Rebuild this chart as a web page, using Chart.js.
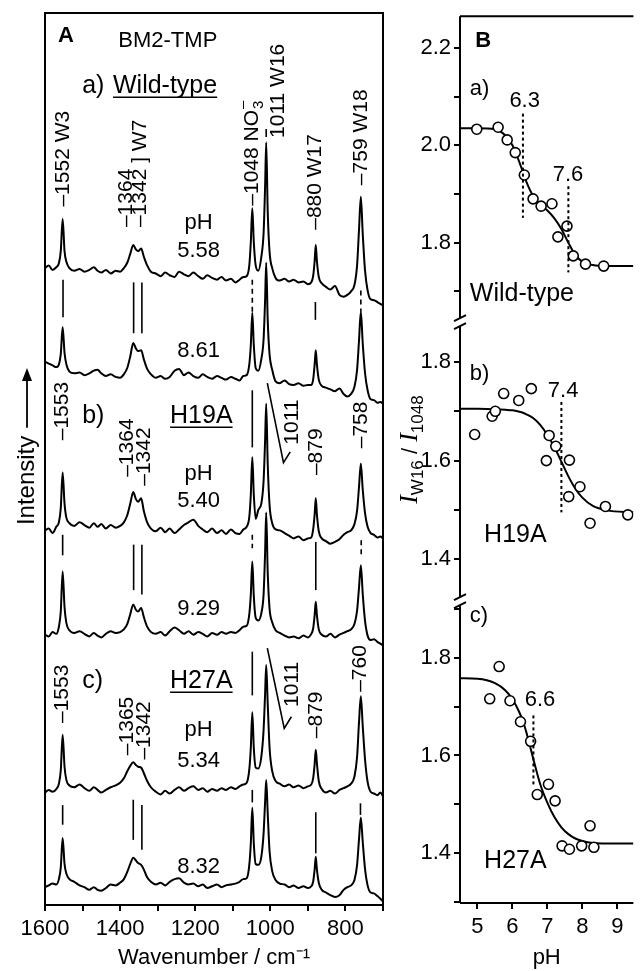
<!DOCTYPE html>
<html lang="en">
<head>
<meta charset="utf-8">
<title>BM2-TMP Raman spectra and pH titration</title>
<script src="https://cdn.jsdelivr.net/npm/chart.js@4.4.1/dist/chart.umd.min.js"></script>
<style>
  html, body { margin: 0; padding: 0; background: #fff; }
  #figure { position: relative; width: 640px; height: 971px; overflow: hidden; }
  #spectra { position: absolute; left: 0; top: 0; width: 400px; height: 971px; }
  #titration { position: absolute; left: 395px; top: 0; width: 245px; height: 971px; }
</style>
</head>
<body>
<div id="figure">
  <canvas id="spectra" width="400" height="971"></canvas>
  <canvas id="titration" width="245" height="971"></canvas>
</div>
<script>
// ---------- panel A : Raman spectra (intensity relative to each trace's baseline) ----------
const wavenumbers = [1600,1590,1580,1570,1563,1558,1553,1548,1543,1535,
  1522,1508,1495,1482,1470,1460,1450,1438,1425,1412,
  1400,1390,1381,1373,1365,1358,1352,1344,1337,1328,
  1318,1305,1292,1280,1268,1255,1243,1230,1218,1205,
  1192,1180,1168,1155,1142,1130,1118,1105,1093,1082,
  1072,1063,1056,1052,1048,1044,1039,1032,1024,1018,
  1014,1011,1007,1002,995,986,975,962,950,938,
  925,912,900,891,886,882,879,876,871,863,
  852,840,828,816,805,795,785,776,769,764,
  759,754,748,741,733,724,715,707,700];

const wt558 = [0,0.3,-0.2,0.1,0.55,1.9,5.5,1.9,0.7,0.0,
  -0.3,-0.1,-0.4,-0.2,0.1,-0.3,-0.5,-0.2,-0.6,-0.3,
  -0.4,0.0,0.6,1.6,2.6,2.1,1.9,2.2,1.3,0.3,
  -0.4,-0.6,-0.9,-0.5,-0.8,-1.0,-0.4,-0.7,-0.9,-0.5,
  -0.9,-1.2,-0.8,-1.1,-1.3,-1.0,-1.4,-1.2,-1.6,-1.3,
  -1.0,-0.9,0.3,2.9,6.7,2.9,0.3,-0.3,1.25,3.9,
  9.0,14.1,6.4,1.8,0.0,-1.1,-1.4,-1.2,-1.5,-1.3,
  -1.6,-1.5,-1.8,-1.6,-0.9,0.8,2.6,0.8,-1.0,-1.7,
  -2.1,-2.4,-2.0,-3.0,-3.2,-3.0,-2.6,-1.9,0.3,4.2,
  8.0,3.9,-0.2,-2.5,-3.5,-3.6,-3.8,-4.0,-4.2];
const wt861 = [0,-0.2,-0.4,-0.6,-0.3,0.85,3.9,1.0,-0.3,-1.1,
  -1.3,-1.2,-1.5,-1.3,-1.0,-0.9,-1.3,-1.6,-1.4,-1.7,
  -1.8,-1.4,-0.7,0.6,2.1,1.5,1.2,1.3,0.3,-0.8,
  -1.4,-1.8,-1.6,-1.9,-1.7,-1.0,-0.8,-1.5,-1.2,-1.6,
  -1.8,-1.4,-1.7,-1.9,-1.6,-1.8,-2.0,-1.7,-1.9,-2.1,
  -1.6,-1.5,-0.3,1.85,5.5,1.85,-0.7,-1.0,0.3,2.5,
  6.8,11.1,4.7,0.8,-0.9,-2.2,-2.4,-2.1,-2.5,-2.6,
  -2.4,-2.7,-2.6,-2.6,-2.0,-0.3,1.3,-0.3,-2.0,-2.7,
  -2.9,-3.1,-3.3,-3.0,-3.6,-3.9,-3.6,-2.8,-0.9,2.3,
  5.6,2.1,-1.2,-3.2,-4.2,-4.3,-4.6,-4.5,-4.7];
const h19a540 = [0,0.2,-0.3,0.4,0.9,2.5,6.5,3.0,1.4,0.8,
  0.5,0.9,0.6,0.3,0.8,0.4,0.7,0.2,0.6,0.3,
  0.5,0.9,1.7,3.0,4.3,3.5,3.2,3.6,2.2,0.9,
  0.2,-0.1,0.3,-0.2,0.2,-0.3,0.1,0.6,0.9,1.2,
  0.5,0.1,-0.2,0.2,-0.3,0.0,-0.4,0.1,-0.3,-0.4,
  0.1,0.4,1.5,4.0,8.2,4.0,1.3,2.3,3.0,5.5,
  10.0,14.2,7.5,2.8,0.8,0.1,0.0,-0.3,-0.6,-0.9,
  -0.7,-1.1,-0.9,-0.8,0.1,1.8,3.6,1.8,-0.1,-0.9,
  -1.2,-1.5,-1.3,-1.0,-0.5,-0.2,0.0,0.7,2.2,4.8,
  7.5,4.6,2.0,0.4,-0.3,-0.5,-0.8,-0.7,-0.9];
const h19a929 = [0,-0.2,0.3,0.1,0.9,2.6,7.1,3.1,1.3,0.5,
  0.2,0.4,0.1,-0.2,0.2,-0.1,-0.3,0.1,0.4,0.2,
  0.3,0.6,1.2,2.3,3.4,2.8,2.6,3.0,2.0,0.9,
  0.3,0.1,0.3,-0.1,0.4,0.8,0.5,0.1,0.4,0.0,
  0.3,0.1,-0.2,0.2,0.0,0.3,0.1,0.3,0.2,0.5,
  0.9,1.0,2.3,4.5,8.2,4.3,1.9,1.6,2.4,4.5,
  9.1,13.7,7.0,2.9,1.4,0.5,0.2,-0.1,-0.3,-0.2,
  -0.4,-0.1,-0.3,0.1,0.7,2.2,3.7,2.2,0.6,0.0,
  -0.2,0.1,-0.3,0.0,0.2,0.4,0.6,1.2,2.7,5.2,
  7.8,4.6,1.6,-0.1,-0.6,-0.5,-0.8,-1.0,-1.2];
const h27a534 = [0,0.3,0.1,0.4,1.0,2.5,6.5,2.9,1.4,0.8,
  0.6,0.9,0.5,0.2,0.6,0.3,0.0,0.3,0.6,0.8,
  1.1,1.6,2.4,3.0,3.4,3.1,2.9,2.8,2.2,1.3,
  0.6,0.1,-0.2,0.2,-0.1,0.3,0.6,0.2,0.5,0.7,
  0.3,0.5,0.1,0.4,0.2,0.5,0.3,0.6,0.4,0.7,
  0.9,1.1,2.6,5.0,9.0,5.0,2.8,2.7,4.0,7.0,
  11.0,14.3,10.0,5.0,2.4,1.3,1.0,0.7,0.9,0.6,
  0.8,0.5,0.7,0.9,1.6,3.2,4.8,3.3,1.3,0.4,
  0.0,0.2,-0.1,0.3,0.5,0.7,1.0,1.8,4.0,7.8,
  10.8,7.5,3.8,1.2,0.1,-0.1,-0.3,0.0,-0.4];
const h27a832 = [0,0.2,0.4,0.3,0.9,2.2,5.5,2.6,1.5,0.9,
  0.6,0.2,0.0,-0.3,0.0,-0.3,-0.4,-0.1,0.3,0.2,
  0.5,0.9,1.7,2.6,3.3,3.0,2.7,2.5,2.0,1.1,
  0.6,0.3,0.5,0.2,0.6,0.9,1.0,0.5,0.3,0.4,
  0.1,0.3,-0.1,0.1,0.3,0.0,0.2,0.3,0.4,0.6,
  0.9,1.0,2.5,4.9,8.9,4.9,2.6,2.5,3.4,6.0,
  9.5,12.0,8.3,4.0,1.8,0.8,0.4,0.3,0.0,0.2,
  -0.1,0.1,-0.1,0.1,0.6,2.0,3.4,2.0,0.5,-0.3,
  -0.6,-0.9,-1.1,-0.9,-0.3,0.0,0.2,0.8,2.5,5.3,
  7.8,5.1,2.1,0.2,-0.6,-0.7,-1.0,-1.3,-1.6];

const spectra = [wt558, wt861, h19a540, h19a929, h27a534, h27a832];
const spectrumNames = ['Wild-type pH 5.58', 'Wild-type pH 8.61', 'H19A pH 5.40',
  'H19A pH 9.29', 'H27A pH 5.34', 'H27A pH 8.32'];
const spectrumOffsets = [71.4, 60.9, 42.0, 30.3, 12.6, 2.0];

// ---------- panel B : I(W16)/I(1048) against pH ----------
const wtPH = [4.98, 5.59, 5.85, 6.08, 6.34, 6.59, 6.82, 7.13, 7.30, 7.56, 7.74, 8.09, 8.61];
const wtRatio = [2.033, 2.037, 2.011, 1.985, 1.939, 1.890, 1.875, 1.880, 1.812, 1.834, 1.773, 1.756, 1.752];
const h19aPH = [4.92, 5.42, 5.51, 5.75, 6.18, 6.54, 6.97, 7.05, 7.24, 7.63, 7.61, 7.93, 8.22, 8.66, 9.30];
const h19aRatio = [1.653, 1.690, 1.700, 1.736, 1.722, 1.746, 1.600, 1.651, 1.629, 1.601, 1.527, 1.547, 1.473, 1.507, 1.490];
const h27aPH = [5.35, 5.62, 5.93, 6.23, 6.52, 6.71, 7.03, 7.22, 7.42, 7.63, 7.98, 8.22, 8.33];
const h27aRatio = [1.716, 1.782, 1.712, 1.669, 1.629, 1.520, 1.541, 1.507, 1.415, 1.408, 1.415, 1.456, 1.412];

const fitPH = [4.5, 5.0, 5.5, 5.8, 6.0, 6.2, 6.3, 6.4, 6.6, 6.8, 7.0, 7.2, 7.4, 7.6, 7.8, 8.0, 8.3, 8.7, 9.46];
const wtFit = [2.035, 2.035, 2.033, 2.020, 2.000, 1.965, 1.945, 1.925, 1.895, 1.878, 1.866, 1.850, 1.828, 1.800, 1.775, 1.761, 1.754, 1.752, 1.752];
const h19aFit = [1.705, 1.705, 1.704, 1.703, 1.702, 1.699, 1.697, 1.694, 1.686, 1.672, 1.652, 1.627, 1.598, 1.568, 1.543, 1.525, 1.508, 1.499, 1.495];
const h27aFit = [1.758, 1.757, 1.748, 1.733, 1.715, 1.688, 1.670, 1.647, 1.592, 1.540, 1.503, 1.474, 1.453, 1.439, 1.430, 1.425, 1.421, 1.420, 1.420];

const pKa = [['6.3', 6.3, 'ya'], ['7.6', 7.6, 'ya'], ['7.4', 7.4, 'yb'], ['6.6', 6.6, 'yc']];

// ---------- annotation layout (wavenumber, intensity units) ----------
const SANS = '"Liberation Sans", Arial, Helvetica, sans-serif';

const peakLabels = [
  ['–1552 W3', 1552, 78.3], ['–1364', 1384, 76.0], ['–1342 ] W7', 1347, 76.0],
  ['1011 W16', 980, 86.0], ['–880 W17', 880, 75.7], ['–759 W18', 759, 80.7],
  ['–1553', 1553, 52.1], ['–1364', 1381, 48.0], ['–1342', 1336, 47.0],
  ['1011', 941, 51.6], ['–879', 879, 48.2], ['–758', 758, 51.2],
  ['–1553', 1553, 20.4], ['–1365', 1381, 16.8], ['–1342', 1336, 16.3],
  ['1011', 941, 22.2], ['–879', 879, 18.7], ['–760', 760, 23.9]
];
const guideLines = [
  [1552, 70.1, 65.9, false], [1364, 69.8, 64.1, false], [1342, 69.8, 64.1, false],
  [1048, 70.1, 66.5, true], [880, 67.6, 65.6, false], [759, 68.9, 66.5, true],
  [1011, 87.0, 86.1, false],
  [1048, 57.7, 51.3, false],
  [1553, 41.5, 39.2, false], [1364, 40.4, 35.3, false], [1342, 40.4, 34.8, false],
  [1048, 41.5, 40.0, true], [879, 40.7, 35.3, false], [758, 40.9, 39.0, true],
  [1048, 28.4, 23.5, false],
  [1553, 11.2, 9.0, false], [1365, 11.8, 7.3, false], [1342, 11.2, 6.2, false],
  [1048, 12.9, 11.5, false], [879, 10.4, 5.8, false], [760, 11.4, 10.1, false]
];
const pointers = [
  [[1008, 58.5], [965, 49.6], [947, 50.8]],
  [[1008, 28.8], [963, 19.8], [944, 21.1]]
];
const phLabels = [
  ['pH', 1191, 75.8], ['5.58', 1191, 72.6], ['8.61', 1191, 61.4],
  ['pH', 1191, 47.6], ['5.40', 1191, 44.6], ['9.29', 1191, 32.5],
  ['pH', 1191, 18.9], ['5.34', 1191, 15.5], ['8.32', 1191, 3.6]
];
const groupTitles = [['a)', 'Wild-type', 91.0], ['b)', 'H19A', 54.0], ['c)', 'H27A', 24.3]];
const groupNameStart = [1419, 1267, 1267];

function vText(ctx, text, x, y) {
  ctx.save();
  ctx.translate(x, y);
  ctx.rotate(-Math.PI / 2);
  ctx.textAlign = 'left';
  ctx.textBaseline = 'middle';
  ctx.fillText(text, 0, 0);
  ctx.restore();
}

const spectraDecor = {
  id: 'spectraDecor',
  afterDraw(chart) {
    const { ctx, chartArea: ca } = chart;
    const xs = chart.scales.x, ys = chart.scales.y;
    const px = w => xs.getPixelForValue(w);
    const py = u => ys.getPixelForValue(u);
    ctx.save();
    ctx.strokeStyle = '#000';
    ctx.fillStyle = '#000';
    ctx.lineWidth = 2;
    ctx.strokeRect(ca.left, ca.top, ca.right - ca.left, ca.bottom - ca.top);

    ctx.lineWidth = 1.6;
    guideLines.forEach(([w, u1, u2, dashed]) => {
      ctx.setLineDash(dashed ? [5, 4] : []);
      ctx.beginPath();
      ctx.moveTo(px(w), py(u1));
      ctx.lineTo(px(w), py(u2));
      ctx.stroke();
    });
    ctx.setLineDash([]);
    pointers.forEach(pts => {
      ctx.beginPath();
      pts.forEach(([w, u], k) => k ? ctx.lineTo(px(w), py(u)) : ctx.moveTo(px(w), py(u)));
      ctx.stroke();
    });

    ctx.font = '21px ' + SANS;
    peakLabels.forEach(([t, w, u]) => vText(ctx, t, px(w), py(u)));

    // 1048 NO3- label with sub/superscript
    ctx.save();
    ctx.translate(px(1048), py(78.4));
    ctx.rotate(-Math.PI / 2);
    ctx.textAlign = 'left';
    ctx.textBaseline = 'middle';
    ctx.fillText('–1048 NO', 0, 0);
    const nw = ctx.measureText('–1048 NO').width;
    ctx.font = '15px ' + SANS;
    ctx.fillText('3', nw + 1, 7);
    ctx.fillText('–', nw + 1, -9);
    ctx.restore();

    ctx.textBaseline = 'alphabetic';
    ctx.textAlign = 'center';
    ctx.font = '22px ' + SANS;
    phLabels.forEach(([t, w, u]) => ctx.fillText(t, px(w), py(u)));
    ctx.fillText('BM2-TMP', px(1273), py(96.2));
    ctx.font = 'bold 22px ' + SANS;
    ctx.fillText('A', px(1544), py(96.7));

    ctx.textAlign = 'left';
    ctx.font = '25px ' + SANS;
    groupTitles.forEach(([tag, name, u], i) => {
      ctx.fillText(tag, px(1501), py(u));
      const x0 = px(groupNameStart[i]), y0 = py(u);
      ctx.fillText(name, x0, y0);
      const wd = ctx.measureText(name).width;
      ctx.lineWidth = 1.5;
      ctx.beginPath();
      ctx.moveTo(x0, y0 + 4);
      ctx.lineTo(x0 + wd, y0 + 4);
      ctx.stroke();
    });

    // y-axis title with arrow
    const tx = ca.left - 18;
    ctx.font = '24px ' + SANS;
    ctx.save();
    ctx.translate(tx, py(47.6));
    ctx.rotate(-Math.PI / 2);
    ctx.textAlign = 'center';
    ctx.textBaseline = 'middle';
    ctx.fillText('Intensity', 0, 0);
    ctx.restore();
    ctx.lineWidth = 1.8;
    ctx.beginPath();
    ctx.moveTo(tx, py(53.5));
    ctx.lineTo(tx, py(60.2) + 10);
    ctx.stroke();
    ctx.beginPath();
    ctx.moveTo(tx, py(60.2));
    ctx.lineTo(tx - 5, py(60.2) + 13);
    ctx.lineTo(tx + 5, py(60.2) + 13);
    ctx.closePath();
    ctx.fill();
    ctx.restore();
  }
};

Chart.defaults.font.family = SANS;
Chart.defaults.font.size = 22;
Chart.defaults.color = '#000';

const spectraChart = new Chart(document.getElementById('spectra'), {
  type: 'line',
  data: {
    datasets: spectra.map((s, i) => ({
      label: spectrumNames[i],
      data: wavenumbers.map((w, j) => ({ x: w, y: s[j] + spectrumOffsets[i] })),
      borderColor: '#000',
      borderWidth: 2,
      pointRadius: 0,
      cubicInterpolationMode: 'monotone'
    }))
  },
  options: {
    responsive: false,
    animation: false,
    layout: { padding: { left: 45, right: 17, top: 13, bottom: 0 } },
    plugins: { legend: { display: false }, tooltip: { enabled: false } },
    scales: {
      x: {
        type: 'linear', reverse: true, min: 700, max: 1600,
        border: { display: false },
        grid: { drawOnChartArea: false, tickLength: 6, lineWidth: 2, color: '#000' },
        ticks: { stepSize: 100, autoSkip: false, maxRotation: 0, padding: 5,
          callback: v => (v % 200 === 0 ? String(v) : '') },
        title: { display: true, text: 'Wavenumber / cm⁻¹', padding: { top: 0, bottom: 0 } },
        afterFit: s => { s.height = 66; }
      },
      y: { display: false, min: 0, max: 100 }
    }
  },
  plugins: [spectraDecor]
});

// ---------- panel B chart ----------
const bLabels = [ // text, pH, value, axis, align, weight
  ['B', 5.16, 2.202, 'ya', 'center', 'bold '],
  ['a)', 4.78, 2.104, 'ya', 'left', ''],
  ['6.3', 6.35, 2.079, 'ya', 'center', ''],
  ['7.6', 7.59, 1.926, 'ya', 'center', ''],
  ['b)', 4.78, 1.763, 'yb', 'left', ''],
  ['7.4', 7.45, 1.729, 'yb', 'center', ''],
  ['c)', 4.78, 1.873, 'yc', 'left', ''],
  ['6.6', 6.79, 1.702, 'yc', 'center', '']
];
const bNames = [['Wild-type', 4.78, 1.681, 'ya'], ['H19A', 5.19, 1.434, 'yb'], ['H27A', 5.19, 1.369, 'yc']];
const pKaSpan = [[2.065, 1.851], [1.916, 1.739], [1.719, 1.495], [1.682, 1.539]];

const ratioDecor = {
  id: 'ratioDecor',
  afterDraw(chart) {
    const { ctx, chartArea: ca } = chart;
    const xs = chart.scales.x;
    const ya = chart.scales.ya, yb = chart.scales.yb, yc = chart.scales.yc;
    const line = (x1, y1, x2, y2) => { ctx.beginPath(); ctx.moveTo(x1, y1); ctx.lineTo(x2, y2); ctx.stroke(); };
    ctx.save();
    ctx.strokeStyle = '#000';
    ctx.fillStyle = '#000';
    ctx.lineWidth = 2;
    line(ca.left, ca.top, ca.right, ca.top);
    line(ca.left, ca.bottom, ca.right, ca.bottom);
    const L = ca.left, g = 4;
    line(L, ca.top, L, ya.bottom - g);
    line(L, yb.top + g, L, yb.bottom - g);
    line(L, yc.top + g, L, ca.bottom);
    [ya.bottom - g, yb.top + g, yb.bottom - g, yc.top + g].forEach(y => line(L - 6, y + 3, L + 6, y - 3));

    ctx.setLineDash([3, 3]);
    pKa.forEach(([, ph, ax], i) => {
      const s = chart.scales[ax];
      line(xs.getPixelForValue(ph), s.getPixelForValue(pKaSpan[i][0]), xs.getPixelForValue(ph), s.getPixelForValue(pKaSpan[i][1]));
    });
    ctx.setLineDash([]);

    ctx.textBaseline = 'alphabetic';
    bLabels.forEach(([t, ph, v, ax, al, wt]) => {
      ctx.font = wt + '22px ' + SANS;
      ctx.textAlign = al;
      ctx.fillText(t, xs.getPixelForValue(ph), chart.scales[ax].getPixelForValue(v));
    });
    ctx.font = '25px ' + SANS;
    ctx.textAlign = 'left';
    bNames.forEach(([t, ph, v, ax]) => ctx.fillText(t, xs.getPixelForValue(ph), chart.scales[ax].getPixelForValue(v)));

    // y title: I_W16 / I_1048
    const parts = [
      { t: 'I', f: 'italic 26px "Liberation Serif", serif', dy: 0 },
      { t: 'W16', f: '17px ' + SANS, dy: 6 },
      { t: ' / ', f: '22px ' + SANS, dy: 0 },
      { t: 'I', f: 'italic 26px "Liberation Serif", serif', dy: 0 },
      { t: '1048', f: '17px ' + SANS, dy: 6 }
    ];
    let total = 0;
    parts.forEach(p => { ctx.font = p.f; p.w = ctx.measureText(p.t).width; total += p.w; });
    ctx.save();
    ctx.translate(L - 43, (ca.top + ca.bottom) / 2 - 10);
    ctx.rotate(-Math.PI / 2);
    ctx.textAlign = 'left';
    let u = -total / 2;
    parts.forEach(p => { ctx.font = p.f; ctx.fillText(p.t, u, p.dy); u += p.w; });
    ctx.restore();
    ctx.restore();
  }
};

const toPts = (xs, ys) => xs.map((x, i) => ({ x, y: ys[i] }));
const pointStyle = { showLine: false, pointRadius: 5, pointBorderWidth: 1.6, pointBackgroundColor: '#fff', pointBorderColor: '#000', order: 1 };
const fitStyle = { showLine: true, borderColor: '#000', borderWidth: 2, pointRadius: 0, cubicInterpolationMode: 'monotone', order: 2 };

function ratioAxis(min, max, weight) {
  return {
    type: 'linear', position: 'left', stack: 'ratio', stackWeight: weight, min, max,
    border: { display: false },
    grid: { drawOnChartArea: false, tickLength: 6, lineWidth: 2, color: '#000' },
    ticks: { stepSize: 0.1, includeBounds: false, autoSkip: false, padding: 3,
      callback: v => (Math.round(v * 10) % 2 === 0 ? v.toFixed(1) : '') },
    afterFit: s => { s.width = 65; }
  };
}

const ratioChart = new Chart(document.getElementById('titration'), {
  type: 'scatter',
  data: {
    datasets: [
      { label: 'Wild-type', data: toPts(wtPH, wtRatio), yAxisID: 'ya', ...pointStyle },
      { label: 'H19A', data: toPts(h19aPH, h19aRatio), yAxisID: 'yb', ...pointStyle },
      { label: 'H27A', data: toPts(h27aPH, h27aRatio), yAxisID: 'yc', ...pointStyle },
      { label: 'Wild-type fit', data: toPts(fitPH, wtFit), yAxisID: 'ya', ...fitStyle },
      { label: 'H19A fit', data: toPts(fitPH, h19aFit), yAxisID: 'yb', ...fitStyle },
      { label: 'H27A fit', data: toPts(fitPH, h27aFit), yAxisID: 'yc', ...fitStyle }
    ]
  },
  options: {
    responsive: false,
    animation: false,
    layout: { padding: { left: 0, right: 0, top: 13, bottom: 0 } },
    plugins: { legend: { display: false }, tooltip: { enabled: false } },
    scales: {
      x: {
        type: 'linear', min: 4.5, max: 9.46,
        border: { display: false },
        grid: { drawOnChartArea: false, tickLength: 6, lineWidth: 2, color: '#000' },
        ticks: { stepSize: 1, includeBounds: false, padding: 5, maxRotation: 0, callback: v => String(v) },
        title: { display: true, text: 'pH', padding: { top: 0, bottom: 0 } },
        afterFit: s => { s.height = 68; }
      },
      // stacked scales are placed bottom-up in definition order
      yc: ratioAxis(1.298, 1.916, 303),
      yb: ratioAxis(1.315, 1.881, 280),
      ya: ratioAxis(1.637, 2.265, 307)
    }
  },
  plugins: [ratioDecor]
});
</script>
</body>
</html>
